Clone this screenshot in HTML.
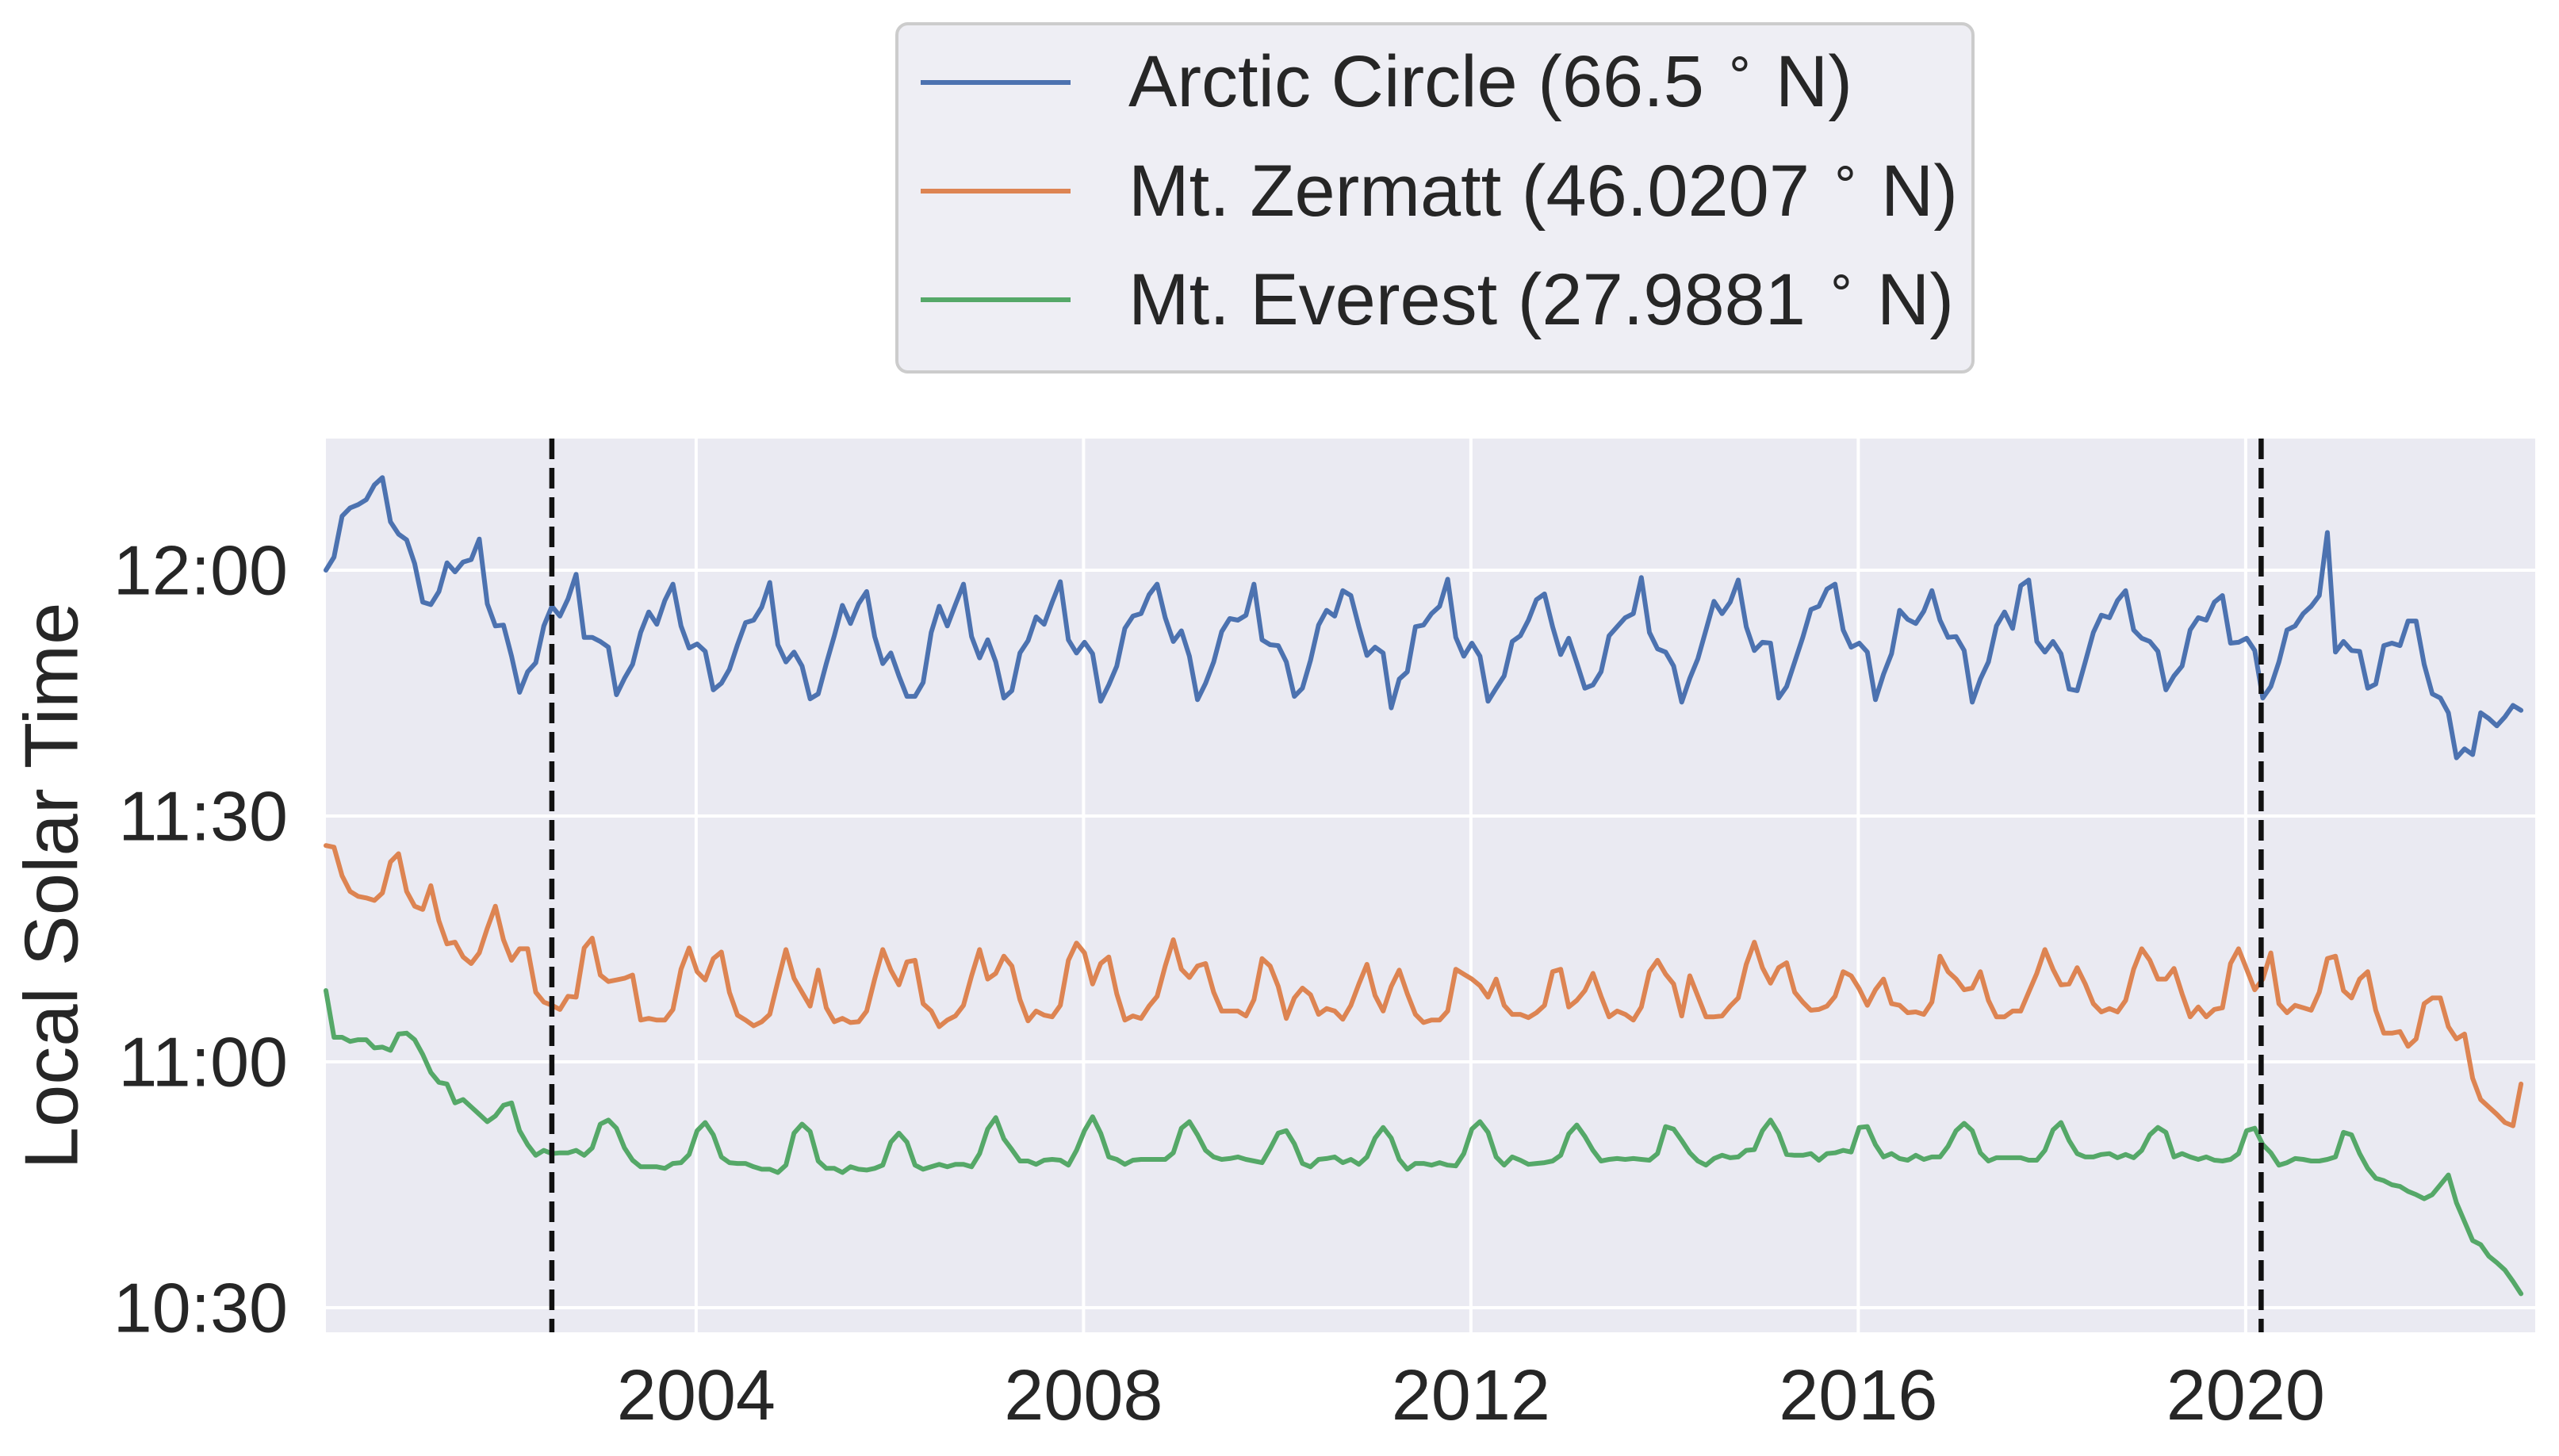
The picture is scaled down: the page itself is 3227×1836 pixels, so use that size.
<!DOCTYPE html>
<html><head><meta charset="utf-8">
<style>
html,body{margin:0;padding:0;background:#fff;}
svg{display:block;font-family:"Liberation Sans",Arial,sans-serif;}
</style></head>
<body>
<svg id="chart" width="3227" height="1836" viewBox="0 0 3227 1836" xmlns="http://www.w3.org/2000/svg">
  <rect x="411" y="553" width="2786" height="1127" fill="#eaeaf2"/>
  <g id="grid"></g>
  <g id="series"></g>
  <g id="vlines"></g>
  <g id="yticks"></g>
  <g id="xticks"></g>
  <text x="72" y="1117" transform="rotate(-90 72 1117)" text-anchor="middle" dominant-baseline="middle" font-size="96" fill="#262626">Local Solar Time</text>
  <g>
    <rect x="1131" y="30" width="1357" height="439" rx="14" fill="#eeeef4" stroke="#cccccc" stroke-width="4"/>
    <g>
      <line x1="1161" y1="104" x2="1350" y2="104" stroke="#4c72b0" stroke-width="6"/>
      <text x="1423" y="134" font-size="92" fill="#262626">Arctic Circle (66.5 <tspan dy="-34" font-size="62">∘</tspan><tspan dy="34"> N)</tspan></text>
    </g>
    <g>
      <line x1="1161" y1="241" x2="1350" y2="241" stroke="#dd8452" stroke-width="6"/>
      <text x="1423" y="272" font-size="92" fill="#262626">Mt. Zermatt (46.0207 <tspan dy="-34" font-size="62">∘</tspan><tspan dy="34"> N)</tspan></text>
    </g>
    <g>
      <line x1="1161" y1="378" x2="1350" y2="378" stroke="#55a868" stroke-width="6"/>
      <text x="1423" y="409" font-size="92" fill="#262626">Mt. Everest (27.9881 <tspan dy="-34" font-size="62">∘</tspan><tspan dy="34"> N)</tspan></text>
    </g>
  </g>
</svg>
<script>
// Values are minutes after 10:30 local solar time; monthly from ~Mar 2000
const startYear = 2000.177;
const arctic = [90.0,91.6,96.6,97.6,98.0,98.6,100.4,101.3,95.9,94.4,93.7,90.8,86.1,85.8,87.4,90.9,89.8,91.0,91.3,93.8,85.9,83.2,83.3,79.5,75.1,77.6,78.7,83.2,85.6,84.4,86.5,89.5,81.8,81.8,81.3,80.6,74.8,76.8,78.5,82.4,84.9,83.4,86.3,88.3,83.2,80.5,81.0,80.1,75.4,76.2,77.9,80.9,83.6,83.9,85.5,88.5,80.9,78.8,80.0,78.3,74.3,74.9,78.6,82.0,85.7,83.5,85.9,87.4,
81.9,78.6,79.9,77.1,74.6,74.6,76.3,82.4,85.6,83.2,85.8,88.3,81.9,79.3,81.5,78.8,74.4,75.3,79.9,81.4,84.3,83.4,86.1,88.6,81.5,79.9,81.2,79.8,74.0,76.0,78.3,82.9,84.4,84.7,87.0,88.3,84.2,81.3,82.6,79.5,74.2,76.2,78.8,82.5,84.1,83.9,84.5,88.3,81.5,80.9,80.8,78.8,74.6,75.6,79.0,83.3,85.1,84.4,87.5,86.9,83.1,79.6,80.6,79.9,73.2,76.7,77.6,83.1,83.3,
84.7,85.6,88.9,81.8,79.5,81.1,79.5,74.0,75.6,77.1,81.3,82.0,83.9,86.4,87.1,83.1,79.7,81.7,78.7,75.6,76.0,77.6,82.0,83.1,84.2,84.7,89.1,82.4,80.4,80.0,78.3,73.9,76.8,79.2,82.7,86.2,84.7,86.1,88.8,83.1,80.2,81.2,81.1,74.4,75.8,78.8,81.8,85.2,85.6,87.7,88.3,82.7,80.6,81.1,80.0,74.2,77.3,79.8,85.1,84.0,83.5,85.0,87.5,83.9,81.8,81.9,80.2,73.9,76.7,
78.8,83.2,84.9,82.9,88.1,88.8,81.3,80.0,81.3,79.8,75.5,75.3,78.8,82.4,84.5,84.2,86.3,87.5,82.7,81.7,81.3,80.1,75.4,77.1,78.3,82.7,84.2,83.9,86.1,86.9,81.1,81.2,81.7,80.2,74.4,75.8,78.8,82.7,83.2,84.7,85.6,86.9,94.6,80.0,81.3,80.2,80.1,75.6,76.1,80.8,81.1,80.8,83.8,83.8,78.5,74.9,74.4,72.6,67.1,68.2,67.5,72.6,71.9,71.0,72.1,73.5,72.9];
const zermatt = [56.4,56.2,52.7,50.8,50.2,50.0,49.7,50.6,54.4,55.4,50.8,49.0,48.6,51.5,47.2,44.4,44.6,42.8,42.0,43.3,46.3,49.0,44.9,42.4,43.8,43.8,38.5,37.3,36.9,36.4,38.0,37.9,43.9,45.1,40.6,39.8,40.0,40.2,40.6,35.1,35.3,35.1,35.1,36.4,41.3,43.9,41.0,40.0,42.6,43.4,38.5,35.7,35.1,34.4,34.9,35.8,39.8,43.7,40.2,38.5,36.8,41.2,36.6,34.9,35.3,34.8,34.9,36.2,
40.1,43.7,41.2,39.4,42.2,42.4,37.1,36.2,34.3,35.1,35.6,36.9,40.5,43.7,40.1,40.8,42.9,41.7,37.6,35.0,36.2,35.7,35.5,36.9,42.4,44.5,43.3,39.5,42.0,42.8,38.3,35.1,35.6,35.3,36.8,38.0,41.7,44.9,41.3,40.3,41.7,42.0,38.5,36.2,36.2,36.2,35.6,37.6,42.6,41.7,39.2,35.3,37.8,39.0,38.2,35.8,36.5,36.2,35.2,36.9,39.5,41.9,38.1,36.2,39.2,41.2,38.3,35.8,34.8,
35.1,35.1,36.2,41.3,40.7,40.1,39.3,37.9,40.1,36.9,35.8,35.8,35.4,36.0,36.9,41.0,41.3,36.7,37.5,38.7,40.8,38.0,35.5,36.2,35.8,35.1,36.7,41.0,42.4,40.7,39.5,35.6,40.5,38.0,35.5,35.5,35.6,36.8,37.8,41.9,44.6,41.5,39.6,41.5,42.1,38.5,37.3,36.3,36.4,36.8,38.0,41.0,40.5,38.9,36.9,38.8,40.1,37.1,36.9,36.0,36.1,35.8,37.3,42.9,41.0,40.1,38.8,39.0,41.0,
37.5,35.5,35.5,36.2,36.2,38.5,40.8,43.7,41.3,39.4,39.5,41.5,39.5,37.1,36.1,36.5,36.1,37.5,41.3,43.8,42.4,40.1,40.1,41.4,38.3,35.5,36.7,35.5,36.4,36.6,42.0,43.8,41.3,38.8,40.1,43.3,37.1,36.0,36.9,36.6,36.3,38.5,42.6,42.9,38.7,37.8,40.1,41.0,36.3,33.5,33.5,33.7,31.9,32.8,37.1,37.8,37.8,34.3,32.8,33.4,28.0,25.4,24.5,23.6,22.6,22.2,27.3];
const everest = [38.7,33.0,33.0,32.5,32.7,32.7,31.7,31.8,31.4,33.4,33.5,32.7,30.9,28.7,27.5,27.3,25.0,25.4,24.5,23.6,22.7,23.4,24.7,25.0,21.6,19.9,18.6,19.2,18.8,18.9,18.9,19.2,18.6,19.5,22.4,22.9,21.9,19.5,18.0,17.2,17.2,17.2,17.0,17.6,17.7,18.7,21.6,22.6,21.1,18.4,17.7,17.6,17.6,17.2,16.9,16.9,16.5,17.4,21.3,22.4,21.5,17.9,17.0,17.0,16.5,17.2,16.9,16.8,
17.0,17.4,20.2,21.3,20.2,17.4,16.9,17.2,17.5,17.2,17.5,17.5,17.2,18.8,21.8,23.2,20.6,19.3,17.9,17.9,17.5,18.0,18.1,18.0,17.4,19.2,21.6,23.3,21.3,18.4,18.1,17.5,18.0,18.1,18.1,18.1,18.1,18.9,21.9,22.7,21.1,19.2,18.4,18.1,18.2,18.4,18.1,17.9,17.7,19.4,21.3,21.6,20.0,17.6,17.2,18.1,18.2,18.4,17.7,18.1,17.5,18.4,20.7,22.0,20.7,18.1,16.9,17.6,17.6,
17.4,17.7,17.4,17.3,18.8,21.8,22.7,21.4,18.4,17.4,18.4,18.0,17.5,17.6,17.7,17.9,18.6,21.2,22.3,20.9,19.2,17.9,18.1,18.2,18.1,18.2,18.1,18.0,18.8,22.1,21.8,20.4,18.9,17.9,17.4,18.2,18.6,18.3,18.4,19.2,19.3,21.6,22.9,21.3,18.7,18.6,18.6,18.8,18.0,18.8,18.9,19.2,19.0,22.0,22.1,19.9,18.4,18.8,18.2,18.0,18.6,18.1,18.4,18.4,19.7,21.6,22.5,21.6,18.9,
17.9,18.3,18.3,18.3,18.3,18.0,18.0,19.2,21.7,22.6,20.4,18.8,18.4,18.4,18.7,18.8,18.3,18.7,18.3,19.2,21.1,22.0,21.4,18.4,18.8,18.4,18.1,18.4,18.0,17.9,18.1,18.8,21.6,21.9,19.9,18.9,17.4,17.7,18.2,18.1,17.9,17.9,18.1,18.4,21.4,21.1,18.8,17.0,15.8,15.5,15.0,14.8,14.2,13.8,13.3,13.8,15.0,16.2,12.8,10.5,8.2,7.7,6.3,5.5,4.6,3.2,1.7];
const yTickValues = [0, 30, 60, 90];
const yTickLabels = ["10:30", "11:00", "11:30", "12:00"];
const xTickYears = [2004, 2008, 2012, 2016, 2020];
const eventYears = [2002.51, 2020.16];

const NS = "http://www.w3.org/2000/svg";
const PL = 411, PR = 3197, PT = 553, PB = 1680;
const xMin = 2000.177, xMax = 2022.99;
function xScale(t){ return PL + (t - xMin) / (xMax - xMin) * (PR - PL); }
function yScale(m){ return 1649 - m * (1649 - 719) / 90; }
function mk(tag, attrs, parent){ const e = document.createElementNS(NS, tag); for (const k in attrs) e.setAttribute(k, attrs[k]); parent.appendChild(e); return e; }

const grid = document.getElementById('grid');
yTickValues.forEach((v, i) => {
  const y = yScale(v);
  const l = mk('line', {x1: PL, x2: PR, y1: y, y2: y, stroke: '#ffffff', 'stroke-width': 4}, grid);
  
  
  const t = mk('text', {x: 363, y: y, 'text-anchor': 'end', 'dominant-baseline': 'central', 'font-size': 88, fill: '#262626'}, document.getElementById('yticks'));
  t.textContent = yTickLabels[i];
  
  
});
xTickYears.forEach(yr => {
  const x = xScale(yr);
  const l = mk('line', {x1: x, x2: x, y1: PT, y2: PB, stroke: '#ffffff', 'stroke-width': 4}, grid);
  
  
  const t = mk('text', {x: x, y: 1790, 'text-anchor': 'middle', 'font-size': 90, fill: '#262626'}, document.getElementById('xticks'));
  t.textContent = String(yr);
  
  
});

const seriesG = document.getElementById('series');
[[arctic, '#4c72b0', 'line-arctic-circle'], [zermatt, '#dd8452', 'line-mt-zermatt'], [everest, '#55a868', 'line-mt-everest']].forEach(([vals, col, nm]) => {
  const d = vals.map((v, i) => (i ? 'L' : 'M') + xScale(startYear + i / 12).toFixed(1) + ',' + yScale(v).toFixed(1)).join(' ');
  const p = mk('path', {d: d, fill: 'none', stroke: col, 'stroke-width': 6, 'stroke-linejoin': 'round', 'stroke-linecap': 'round'}, seriesG);
  
  
});

const vg = document.getElementById('vlines');
eventYears.forEach(yr => {
  const x = xScale(yr);
  const l = mk('line', {x1: x, x2: x, y1: PT, y2: PB, stroke: '#111111', 'stroke-width': 6.5, 'stroke-dasharray': '26 11'}, vg);
  
  
});
</script>
</body></html>
